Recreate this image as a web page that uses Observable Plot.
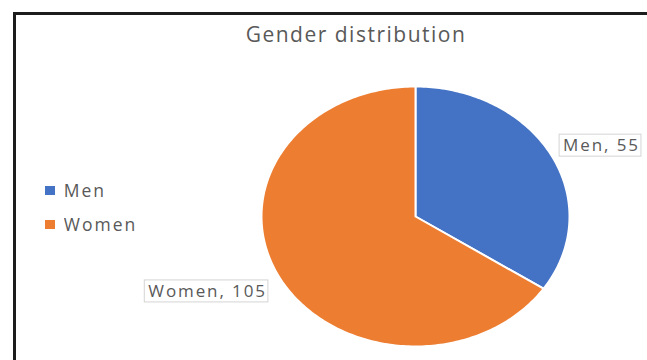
<!DOCTYPE html>
<html><head><meta charset="utf-8">
<script src="https://cdn.jsdelivr.net/npm/d3@7"></script>
<script src="https://cdn.jsdelivr.net/npm/@observablehq/plot@0.6"></script>
<style>
html,body{margin:0;padding:0;background:#fff;overflow:hidden;width:647px;height:360px;}
#frame{position:absolute;left:13px;top:12px;width:720px;height:420px;border:3px solid #1c1c1c;box-sizing:border-box;}
#chart{position:absolute;left:0;top:0;}
#title{position:absolute;left:0;width:712px;top:20px;text-align:center;font-family:"Open Sans",sans-serif;font-size:21px;color:#595959;letter-spacing:1.5px;}
#legend{position:absolute;left:45px;top:178px;}
.lg-swatch{padding-bottom:10px !important;}
.lbl text{letter-spacing:1.9px;}
</style></head><body>
<div id="frame"></div>
<div id="chart"></div>
<div id="title"></div>
<div id="legend"></div>
<script>
const titleText = "Gender distribution";
const categories = ["Men", "Women"];
const values = [55, 105];
const colors = ["#4472C4", "#ED7D31"];

document.getElementById("title").textContent = titleText;

const arcs = d3.pie().sort(null).value(d => d)(values);
const slicePts = arcs.flatMap((s, i) => {
  const cat = categories[i];
  const pts = [{cat, x: 0, y: 0}];
  const n = Math.ceil((s.endAngle - s.startAngle) / (Math.PI / 180));
  for (let k = 0; k <= n; k++) {
    const a = s.startAngle + (s.endAngle - s.startAngle) * k / n;
    pts.push({cat, x: Math.sin(a), y: Math.cos(a)});
  }
  return pts;
});
const labels = arcs.map((s, i) => {
  const a = (s.startAngle + s.endAngle) / 2;
  return {text: `${categories[i]}, ${values[i]}`, x: 1.05 * Math.sin(a), y: 1.05 * Math.cos(a), right: Math.sin(a) > 0};
});

const font = "Open Sans, sans-serif";
const chart = Plot.plot({
  width: 647, height: 360, margin: 0,
  style: {background: "transparent", fontFamily: font},
  x: {domain: [-1, 1], range: [261, 569], axis: null},
  y: {domain: [-1, 1], range: [346, 86], axis: null},
  color: {domain: categories, range: colors},
  marks: [
    Plot.line(slicePts, {x: "x", y: "y", z: "cat", fill: "cat", stroke: "white", strokeWidth: 2, curve: "linear-closed"}),
    Plot.text(labels.filter(d => d.right), {x: "x", y: "y", text: "text", textAnchor: "start", lineAnchor: "bottom", dx: 5, dy: -1, fontSize: 17, fill: "#595959", className: "lbl"}),
    Plot.text(labels.filter(d => !d.right), {x: "x", y: "y", text: "text", textAnchor: "end", lineAnchor: "top", dx: -6, dy: 4, fontSize: 17, fill: "#595959", className: "lbl"})
  ]
});
document.getElementById("chart").appendChild(chart);

// boxes behind data labels
chart.querySelectorAll(".lbl text").forEach(t => {
  const b = t.getBBox();
  const r = document.createElementNS("http://www.w3.org/2000/svg", "rect");
  r.setAttribute("x", b.x - 4); r.setAttribute("y", b.y + 1);
  r.setAttribute("width", b.width + 5); r.setAttribute("height", b.height - 1);
  r.setAttribute("fill", "white"); r.setAttribute("stroke", "#d4d4d4"); r.setAttribute("stroke-width", 1);
  if (t.getAttribute("transform")) r.setAttribute("transform", t.getAttribute("transform"));
  t.parentNode.insertBefore(r, t);
});

const legend = Plot.legend({
  color: {domain: categories, range: colors},
  columns: 1, swatchWidth: 10, swatchHeight: 9, className: "lg",
  style: {fontFamily: font, fontSize: "17.5px", color: "#595959", letterSpacing: "2px"}
});
document.getElementById("legend").appendChild(legend);
</script>
</body></html>
